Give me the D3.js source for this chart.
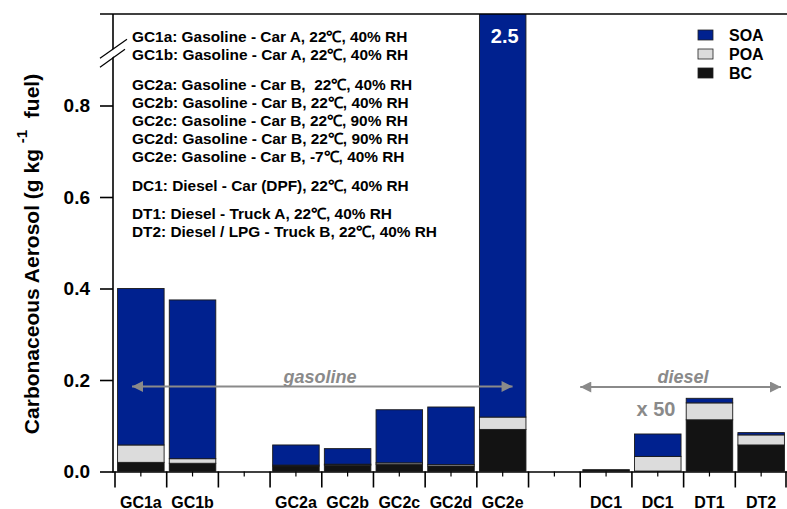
<!DOCTYPE html>
<html>
<head>
<meta charset="utf-8">
<script src="https://cdn.jsdelivr.net/npm/d3@7"></script>
<style>
  html, body { margin: 0; padding: 0; background: #fff; }
  svg { display: block; font-family: Arial, "Liberation Sans", sans-serif; }
  text { white-space: pre; }
</style>
</head>
<body>
<svg id="chart" width="787" height="509"></svg>
<script>
// Emission categories (empty strings are spacer slots between groups)
const categories = ["GC1a", "GC1b", "", "GC2a", "GC2b", "GC2c", "GC2d", "GC2e", "", "DC1", "DC1", "DT1", "DT2"];

// Stacked components, g per kg fuel (second DC1, DT1 and DT2 shown x 50)
const bcValues  = [0.020, 0.018, null, 0.012, 0.014, 0.016, 0.012, 0.092, null, 0.004, 0.001, 0.113, 0.058];
const poaValues = [0.038, 0.010, null, 0.002, 0.002, 0.003, 0.003, 0.027, null, 0.000, 0.032, 0.037, 0.022];
const soaValues = [0.342, 0.347, null, 0.044, 0.034, 0.116, 0.126, 2.381, null, 0.000, 0.049, 0.010, 0.005];

const seriesNames  = ["BC", "POA", "SOA"];
const seriesColors = ["#131313", "#dcdcdc", "#00218f"];
const legendOrder  = ["SOA", "POA", "BC"];

const yTicks = [0.0, 0.2, 0.4, 0.6, 0.8];
const yMax = 1.0;

const notes = [
  ["GC1a: Gasoline - Car A, 22\u2103, 40% RH",
   "GC1b: Gasoline - Car A, 22\u2103, 40% RH"],
  ["GC2a: Gasoline - Car B,  22\u2103, 40% RH",
   "GC2b: Gasoline - Car B, 22\u2103, 40% RH",
   "GC2c: Gasoline - Car B, 22\u2103, 90% RH",
   "GC2d: Gasoline - Car B, 22\u2103, 90% RH",
   "GC2e: Gasoline - Car B, -7\u2103, 40% RH"],
  ["DC1: Diesel - Car (DPF), 22\u2103, 40% RH"],
  ["DT1: Diesel - Truck A, 22\u2103, 40% RH",
   "DT2: Diesel / LPG - Truck B, 22\u2103, 40% RH"]
];

const svg = d3.select("#chart");
const plot = { left: 113, right: 787, top: 14, bottom: 471.5, start: 115 };

const slots = categories.map((c, i) => i);
const x = d3.scaleBand().domain(slots).range([plot.start, plot.right]).paddingInner(0.1).paddingOuter(0.05);
const xs = d3.scaleBand().domain(slots).range([plot.start, plot.right]); // full slot widths for ticks
const y = d3.scaleLinear().domain([0, yMax]).range([plot.bottom, plot.top]);

// Stack table
const rows = slots.filter(i => categories[i] !== "").map(i => ({
  slot: i, BC: bcValues[i], POA: poaValues[i], SOA: soaValues[i]
}));
const stacked = d3.stack().keys(seriesNames)(rows);

svg.append("defs").append("clipPath").attr("id", "plotClip")
  .append("rect").attr("x", plot.left).attr("y", plot.top)
  .attr("width", plot.right - plot.left).attr("height", plot.bottom - plot.top);

const barsG = svg.append("g").attr("clip-path", "url(#plotClip)");
stacked.forEach((layer, k) => {
  barsG.append("g").selectAll("rect").data(layer).join("rect")
    .attr("x", d => x(d.data.slot))
    .attr("width", x.bandwidth())
    .attr("y", d => y(d[1]))
    .attr("height", d => Math.max(0, y(d[0]) - y(d[1])))
    .attr("fill", seriesColors[k])
    .attr("stroke", "#1a1a1a")
    .attr("stroke-width", 0.9);
});

// Value label for the bar that runs off the top
rows.filter(r => r.BC + r.POA + r.SOA > yMax).forEach(r => {
  const total = r.BC + r.POA + r.SOA;
  svg.append("text")
    .attr("x", x(r.slot) + x.bandwidth() / 2 + 2)
    .attr("y", 43)
    .attr("text-anchor", "middle")
    .attr("fill", "#fff")
    .attr("font-weight", "bold")
    .attr("font-size", 20)
    .text(d3.format(".1f")(total));
});

// X axis: major ticks at slot boundaries, minor ticks at slot centres
const xAxisG = svg.append("g");
xAxisG.append("line").attr("x1", plot.left).attr("x2", plot.right)
  .attr("y1", plot.bottom + 0.5).attr("y2", plot.bottom + 0.5)
  .attr("stroke", "#000").attr("stroke-width", 1.6);
const bounds = slots.map(i => xs(i)).concat([plot.right - 1]);
xAxisG.selectAll("line.major").data(bounds).join("line").attr("class", "major")
  .attr("x1", d => d).attr("x2", d => d)
  .attr("y1", plot.bottom).attr("y2", plot.bottom + 16)
  .attr("stroke", "#000").attr("stroke-width", 1.6);
xAxisG.selectAll("line.minor").data(slots).join("line").attr("class", "minor")
  .attr("x1", d => xs(d) + xs.bandwidth() / 2).attr("x2", d => xs(d) + xs.bandwidth() / 2)
  .attr("y1", plot.bottom).attr("y2", plot.bottom + 5)
  .attr("stroke", "#000").attr("stroke-width", 1.2);
xAxisG.selectAll("text").data(slots.filter(i => categories[i] !== "")).join("text")
  .attr("x", d => xs(d) + xs.bandwidth() / 2)
  .attr("y", 507.5)
  .attr("text-anchor", "middle")
  .attr("font-weight", "bold")
  .attr("font-size", 16)
  .attr("fill", "#000")
  .text(d => categories[d]);

// Y axis
const yAxis = d3.axisLeft(y).tickValues(yTicks).tickFormat(d3.format(".1f")).tickSize(13).tickPadding(10);
const yAxisG = svg.append("g").attr("transform", `translate(${plot.left},0)`).call(yAxis);
yAxisG.select(".domain").remove();
yAxisG.append("line").attr("x1", 0).attr("x2", 0).attr("y1", plot.top).attr("y2", plot.bottom + 1)
  .attr("stroke", "#000").attr("stroke-width", 1.6);
yAxisG.selectAll(".tick line").attr("stroke", "#000").attr("stroke-width", 1.6);
yAxisG.selectAll(".tick text").attr("font-size", 19).attr("font-weight", "bold")
  .attr("fill", "#000").attr("font-family", "Arial, 'Liberation Sans', sans-serif");

// Top frame line (with outer tick at the top of the scale)
svg.append("line").attr("x1", plot.left - 13).attr("x2", plot.right)
  .attr("y1", y(yMax)).attr("y2", y(yMax)).attr("stroke", "#000").attr("stroke-width", 1.6);

// Axis break marks
const yb = y(0.91);
svg.append("polygon")
  .attr("points", [[100, yb + 4], [127, yb - 16], [125, yb - 7], [100, yb + 11]].map(p => p.join(",")).join(" "))
  .attr("fill", "#fff");
svg.append("line").attr("x1", 100).attr("y1", yb + 3).attr("x2", 127).attr("y2", yb - 16)
  .attr("stroke", "#000").attr("stroke-width", 1.2);
svg.append("line").attr("x1", 100).attr("y1", yb + 12).attr("x2", 125).attr("y2", yb - 6)
  .attr("stroke", "#000").attr("stroke-width", 1.2);

// Y axis title
const yTitle = svg.append("text")
  .attr("transform", "translate(39,254) rotate(-90)")
  .attr("text-anchor", "middle")
  .attr("font-weight", "bold")
  .attr("font-size", 21)
  .attr("fill", "#000");
yTitle.append("tspan").text("Carbonaceous Aerosol (g kg ");
yTitle.append("tspan").attr("dy", -12).attr("font-size", 15).text("-1");
yTitle.append("tspan").attr("dy", 12).text("  fuel)");

// Legend
const legend = svg.append("g");
legendOrder.forEach((name, i) => {
  const k = seriesNames.indexOf(name);
  const ly = 30 + i * 19;
  legend.append("rect").attr("x", 698).attr("y", ly).attr("width", 15).attr("height", 10)
    .attr("fill", seriesColors[k]).attr("stroke", "#222").attr("stroke-width", 0.8);
  legend.append("text").attr("x", 729).attr("y", ly + 10.5)
    .attr("font-weight", "bold").attr("font-size", 16).attr("fill", "#000").text(name);
});

// Vehicle descriptions
const notesG = svg.append("g");
const groupStarts = [42, 90, 191, 219];
notes.forEach((group, g) => {
  group.forEach((line, j) => {
    notesG.append("text").attr("x", 132).attr("y", groupStarts[g] + j * 18)
      .attr("font-weight", "bold").attr("font-size", 15.4).attr("fill", "#000").text(line);
  });
});

// Group arrows
const grey = "#8a8a8a";
const defs = svg.select("defs");
defs.append("marker").attr("id", "arrowHead").attr("viewBox", "0 0 10 10")
  .attr("refX", 10).attr("refY", 5).attr("markerWidth", 13).attr("markerHeight", 11)
  .attr("markerUnits", "userSpaceOnUse").attr("orient", "auto-start-reverse")
  .append("path").attr("d", "M0,0 L10,5 L0,10 Z").attr("fill", grey);

function groupArrow(x1, x2, yy, label, lx) {
  svg.append("line").attr("x1", x1).attr("x2", x2).attr("y1", yy).attr("y2", yy)
    .attr("stroke", grey).attr("stroke-width", 2)
    .attr("marker-start", "url(#arrowHead)").attr("marker-end", "url(#arrowHead)");
  svg.append("text").attr("x", lx).attr("y", yy - 4).attr("text-anchor", "middle")
    .attr("font-style", "italic").attr("font-weight", "bold").attr("font-size", 18)
    .attr("fill", grey).text(label);
}
const bw = xs.bandwidth();
groupArrow(xs(0) + 17, xs(7) + bw - 16, 386.5, "gasoline", 320);
groupArrow(xs(9), xs(12) + bw - 6, 387, "diesel", 683);

svg.append("text").attr("x", 656).attr("y", 416).attr("text-anchor", "middle")
  .attr("font-weight", "bold").attr("font-size", 20).attr("fill", grey).text("x 50");
</script>
</body>
</html>
